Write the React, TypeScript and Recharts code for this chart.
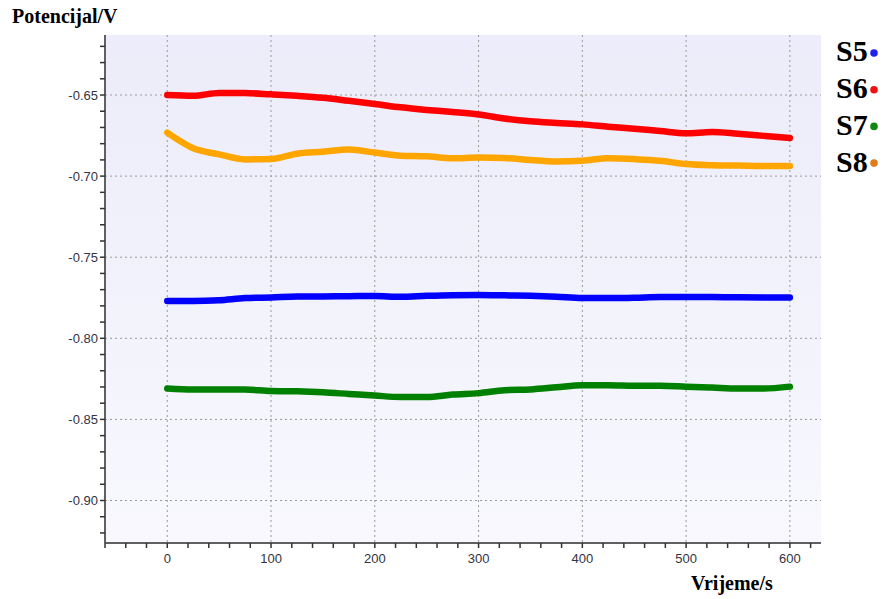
import React from 'react';
import { LineChart, Line, XAxis, YAxis, CartesianGrid, Legend } from 'recharts';

const times = [0, 25, 50, 75, 100, 125, 150, 175, 200, 225, 250, 275, 300, 325, 350, 375, 400, 425, 450, 475, 500, 525, 550, 575, 600];

const s5 = [-0.7770, -0.7770, -0.7765, -0.7752, -0.7748, -0.7743, -0.7742, -0.7740, -0.7739, -0.7744, -0.7738, -0.7734, -0.7733, -0.7735, -0.7738, -0.7744, -0.7752, -0.7752, -0.7750, -0.7745, -0.7745, -0.7746, -0.7747, -0.7748, -0.7749];
const s6 = [-0.6500, -0.6505, -0.6487, -0.6488, -0.6496, -0.6505, -0.6517, -0.6536, -0.6555, -0.6576, -0.6592, -0.6605, -0.6620, -0.6645, -0.6662, -0.6672, -0.6681, -0.6695, -0.6708, -0.6722, -0.6736, -0.6728, -0.6739, -0.6752, -0.6765];
const s7 = [-0.8310, -0.8316, -0.8316, -0.8316, -0.8325, -0.8327, -0.8333, -0.8343, -0.8353, -0.8362, -0.8362, -0.8347, -0.8338, -0.8320, -0.8315, -0.8302, -0.8289, -0.8289, -0.8292, -0.8292, -0.8298, -0.8304, -0.8310, -0.8310, -0.8298];
const s8 = [-0.6732, -0.6828, -0.6866, -0.6897, -0.6895, -0.6862, -0.6850, -0.6836, -0.6855, -0.6874, -0.6878, -0.6890, -0.6886, -0.6889, -0.6900, -0.6910, -0.6905, -0.6890, -0.6895, -0.6905, -0.6926, -0.6933, -0.6935, -0.6937, -0.6937];

const seriesNames = ['S5', 'S6', 'S7', 'S8'];
const lineColors = ['#0000FF', '#FF0000', '#008000', '#FFA500'];
const dotColors = ['#2020EE', '#F01010', '#118811', '#E07A1A'];

const xTicks = [-60, -40, -20, 0, 20, 40, 60, 80, 100, 120, 140, 160, 180, 200, 220, 240, 260, 280, 300, 320, 340, 360, 380, 400, 420, 440, 460, 480, 500, 520, 540, 560, 580, 600, 620];
const xLabels = [0, 100, 200, 300, 400, 500, 600];
const yTicks = [-0.62, -0.63, -0.64, -0.65, -0.66, -0.67, -0.68, -0.69, -0.70, -0.71, -0.72, -0.73, -0.74, -0.75, -0.76, -0.77, -0.78, -0.79, -0.80, -0.81, -0.82, -0.83, -0.84, -0.85, -0.86, -0.87, -0.88, -0.89, -0.90, -0.91, -0.92];
const yLabels = [-0.65, -0.70, -0.75, -0.80, -0.85, -0.90];

const xTitle = 'Vrijeme/s';
const yTitle = 'Potencijal/V';

const seriesValues = [s5, s6, s7, s8];
const data = times.map((t, i) => {
  const row: Record<string, number> = { t };
  seriesNames.forEach((n, k) => { row[n] = seriesValues[k][i]; });
  return row;
});

const tickFont = { fontFamily: '"Liberation Sans", Arial, sans-serif', fontSize: 13, fill: '#333344' };

const XTick = (props: any) => {
  const { x, y, payload } = props;
  if (!xLabels.some((v) => Math.abs(v - payload.value) < 1e-9)) return <g />;
  return (
    <text x={x} y={y} dy={13} textAnchor="middle" {...tickFont}>
      {payload.value}
    </text>
  );
};

const YTick = (props: any) => {
  const { x, y, payload } = props;
  if (!yLabels.some((v) => Math.abs(v - payload.value) < 1e-9)) return <g />;
  return (
    <text x={x} y={y} dy={4.5} textAnchor="end" {...tickFont}>
      {Number(payload.value).toFixed(2)}
    </text>
  );
};

const LegendBox = () => (
  <svg width={51} height={160} style={{ display: 'block' }}>
    {seriesNames.map((n, i) => (
      <g key={n}>
        <text
          x={2}
          y={31 + i * 37}
          fontFamily='"Liberation Serif", "Times New Roman", serif'
          fontWeight="bold"
          fontSize={30}
          fill="#000"
        >
          {n}
        </text>
        <circle cx={40} cy={23 + i * 36.7} r={3.8} fill={dotColors[i]} />
      </g>
    ))}
  </svg>
);

export default function App() {
  return (
    <div style={{ position: 'absolute', left: 0, top: 0, width: 885, height: 599, background: '#fff' }}>
      <LineChart
        width={885}
        height={599}
        data={data}
        margin={{ top: 35, right: 64, bottom: 26, left: 45 }}
      >
        <defs>
          <linearGradient id="plotBg" x1="0" y1="0" x2="0" y2="1">
            <stop offset="0%" stopColor="#ECECFA" />
            <stop offset="100%" stopColor="#F8F8FE" />
          </linearGradient>
        </defs>
        <CartesianGrid
          fill="url(#plotBg)"
          stroke="#999"
          strokeDasharray="2 3"
          horizontalValues={yLabels}
          verticalValues={xLabels}
        />
        <XAxis
          dataKey="t"
          type="number"
          domain={[-60, 630]}
          ticks={xTicks}
          interval={0}
          tick={XTick}
          tickSize={5}
          tickMargin={2}
          tickLine={{ stroke: '#333', strokeWidth: 1.5 }}
          axisLine={{ stroke: '#606060', strokeWidth: 2 }}
          height={30}
          allowDataOverflow
        />
        <XAxis
          xAxisId="top"
          orientation="top"
          type="number"
          domain={[-60, 630]}
          height={0}
          tick={false}
          tickLine={false}
          axisLine={{ stroke: '#707070', strokeWidth: 2 }}
        />
        <YAxis
          type="number"
          domain={[-0.9262, -0.613]}
          ticks={yTicks}
          interval={0}
          tick={YTick}
          tickSize={5}
          tickMargin={2}
          tickLine={{ stroke: '#333', strokeWidth: 1.5 }}
          axisLine={{ stroke: '#606060', strokeWidth: 2 }}
          width={60}
          allowDataOverflow
        />
        <YAxis
          yAxisId="right"
          orientation="right"
          type="number"
          domain={[-0.9262, -0.613]}
          width={0}
          tick={false}
          tickLine={false}
          axisLine={{ stroke: '#707070', strokeWidth: 2 }}
        />
        <Legend
          layout="vertical"
          align="center"
          verticalAlign="middle"
          wrapperStyle={{ position: 'absolute', left: 834, top: 30, width: 51, height: 160 }}
          content={() => <LegendBox />}
        />
        {seriesNames.map((n, i) => (
          <Line
            key={n}
            dataKey={n}
            name={n}
            type="monotone"
            stroke={lineColors[i]}
            strokeWidth={6.5}
            strokeLinecap="round"
            strokeLinejoin="round"
            dot={false}
            activeDot={false}
            isAnimationActive={false}
          />
        ))}
      </LineChart>
      <svg
        width={885}
        height={599}
        style={{ position: 'absolute', left: 0, top: 0, pointerEvents: 'none' }}
      >
        <text x={12} y={23} fontFamily='"Liberation Serif", "Times New Roman", serif' fontWeight="bold" fontSize={20} fill="#000">
          {yTitle}
        </text>
        <text x={691} y={590} fontFamily='"Liberation Serif", "Times New Roman", serif' fontWeight="bold" fontSize={20} fill="#000">
          {xTitle}
        </text>
      </svg>
    </div>
  );
}
